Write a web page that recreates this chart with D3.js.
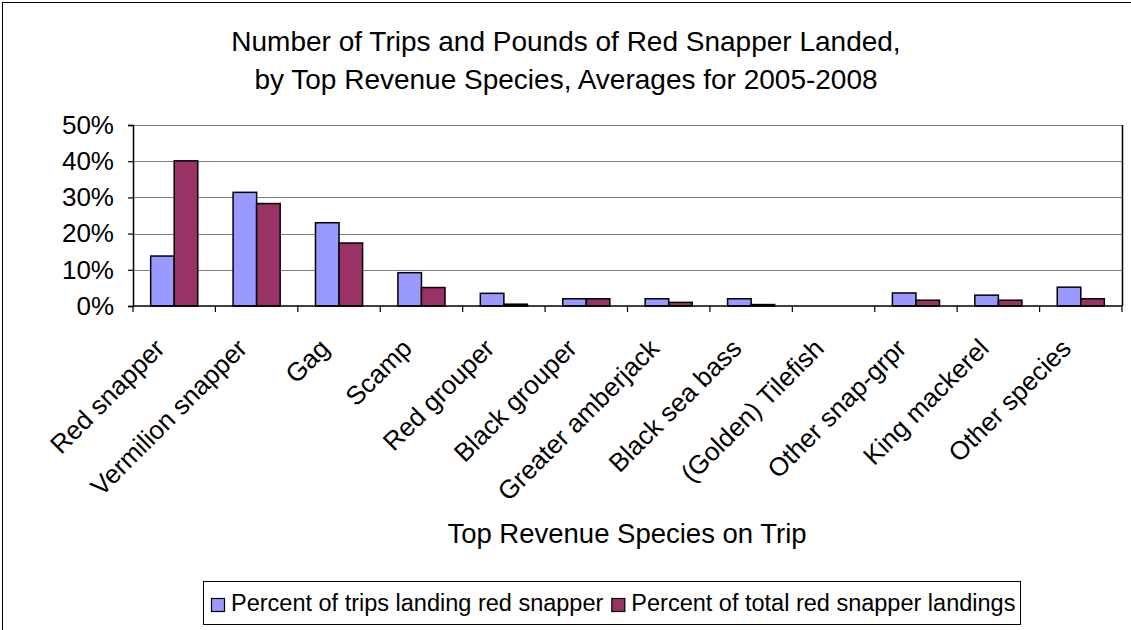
<!DOCTYPE html>
<html>
<head>
<meta charset="utf-8">
<script src="https://cdn.jsdelivr.net/npm/d3@7"></script>
<style>
  html, body { margin: 0; padding: 0; background: #fff; }
  svg { display: block; font-family: "Liberation Sans", Arial, sans-serif; }
</style>
</head>
<body>
<svg id="chart" width="1131" height="630"></svg>
<script>
// ---- data ----
const categories = ["Red snapper", "Vermilion snapper", "Gag", "Scamp", "Red grouper", "Black grouper",
  "Greater amberjack", "Black sea bass", "(Golden) Tilefish", "Other snap-grpr", "King mackerel", "Other species"];
const tripsPct = [13.8, 31.4, 23.0, 9.2, 3.5, 2.0, 2.0, 2.0, 0.0, 3.6, 3.0, 5.2];
const landingsPct = [40.1, 28.3, 17.4, 5.1, 0.5, 2.0, 1.0, 0.4, 0.0, 1.6, 1.6, 2.0];
const seriesNames = ["Percent of trips landing red snapper", "Percent of total red snapper landings"];
const yTicks = [0, 10, 20, 30, 40, 50];
const titleLines = ["Number of Trips and Pounds of Red Snapper Landed,", "by Top Revenue Species, Averages for 2005-2008"];
const xAxisTitle = "Top Revenue Species on Trip";

const colors = ["#9999FF", "#993366"];
const svg = d3.select("#chart");

// outer frame
svg.append("rect").attr("x", 2.5).attr("y", 2.5).attr("width", 1200).attr("height", 700)
  .attr("fill", "#fff").attr("stroke", "#000").attr("stroke-width", 1);

const plot = { left: 133, right: 1122, top: 125, bottom: 306 };

const x = d3.scaleBand().domain(categories).range([plot.left, plot.right]).padding(0);
const xs = d3.scaleBand().domain([0, 1]).range([0, x.bandwidth()]).paddingInner(0).paddingOuter(0.75);
const y = d3.scaleLinear().domain([0, 50]).range([plot.bottom, plot.top]);

// gridlines
svg.append("g").selectAll("line").data(yTicks.filter(d => d > 0)).join("line")
  .attr("x1", plot.left).attr("x2", plot.right)
  .attr("y1", d => Math.round(y(d)) + 0.5).attr("y2", d => Math.round(y(d)) + 0.5)
  .attr("stroke", "#808080").attr("stroke-width", 1.2);

// right border of plot area
svg.append("line").attr("x1", plot.right + 0.5).attr("x2", plot.right + 0.5)
  .attr("y1", plot.top).attr("y2", plot.bottom).attr("stroke", "#000").attr("stroke-width", 1.5);

// bars
const data = categories.map((c, i) => ({ c, vals: [tripsPct[i], landingsPct[i]] }));
const groups = svg.append("g").selectAll("g").data(data).join("g")
  .attr("transform", d => `translate(${x(d.c)},0)`);
groups.selectAll("rect").data(d => d.vals.map((v, k) => ({ v, k }))).join("rect")
  .attr("x", d => xs(d.k))
  .attr("width", xs.bandwidth())
  .attr("y", d => y(d.v))
  .attr("height", d => y(0) - y(d.v))
  .attr("fill", d => colors[d.k])
  .attr("stroke", "#000").attr("stroke-width", 1.5)
  .attr("display", d => d.v > 0 ? null : "none");

// y axis
const yAxis = svg.append("g").attr("transform", `translate(${plot.left},0)`)
  .call(d3.axisLeft(y).tickValues(yTicks).tickFormat(d => d + "%").tickSize(5).tickPadding(14));
yAxis.select(".domain").attr("stroke", "#000").attr("stroke-width", 1.5);
yAxis.selectAll(".tick line").attr("stroke", "#000").attr("stroke-width", 1.2);
yAxis.selectAll(".tick text").attr("font-size", 26).attr("fill", "#000")
  .attr("font-family", "Liberation Sans, Arial, sans-serif");

// x axis line + ticks at category boundaries
const xAxisG = svg.append("g");
xAxisG.append("line").attr("x1", plot.left).attr("x2", plot.right)
  .attr("y1", plot.bottom).attr("y2", plot.bottom).attr("stroke", "#000").attr("stroke-width", 1.5);
const bounds = categories.map(c => x(c)).concat([plot.right]);
xAxisG.selectAll("line.tk").data(bounds).join("line").attr("class", "tk")
  .attr("x1", d => d).attr("x2", d => d)
  .attr("y1", plot.bottom).attr("y2", plot.bottom + 6)
  .attr("stroke", "#000").attr("stroke-width", 1.2);
xAxisG.selectAll("text").data(categories).join("text")
  .attr("transform", d => `translate(${x(d) + x.bandwidth() / 2 - 8},${plot.bottom + 44}) rotate(-45)`)
  .attr("text-anchor", "end")
  .attr("font-size", 26)
  .attr("fill", "#000")
  .text(d => d);

// title
svg.append("g").selectAll("text").data(titleLines).join("text")
  .attr("x", 566).attr("y", (d, i) => 51 + i * 38)
  .attr("text-anchor", "middle").attr("font-size", 28).attr("fill", "#000")
  .text(d => d);

// x axis title
svg.append("text").attr("x", 627).attr("y", 543).attr("text-anchor", "middle")
  .attr("font-size", 27.5).attr("fill", "#000").text(xAxisTitle);

// legend
const lg = svg.append("g");
lg.append("rect").attr("x", 203.5).attr("y", 581.5).attr("width", 817).attr("height", 43)
  .attr("fill", "#fff").attr("stroke", "#000").attr("stroke-width", 1);
let lx = 211;
seriesNames.forEach((name, k) => {
  lg.append("rect").attr("x", lx + 0.5).attr("y", 598.5).attr("width", 13).attr("height", 13)
    .attr("fill", colors[k]).attr("stroke", "#000").attr("stroke-width", 1.2);
  const t = lg.append("text").attr("x", lx + 20).attr("y", 611).attr("font-size", 23.5).attr("fill", "#000")
    .text(name);
  lx = lx + 20 + t.node().getComputedTextLength() + 8;
});
</script>
</body>
</html>
